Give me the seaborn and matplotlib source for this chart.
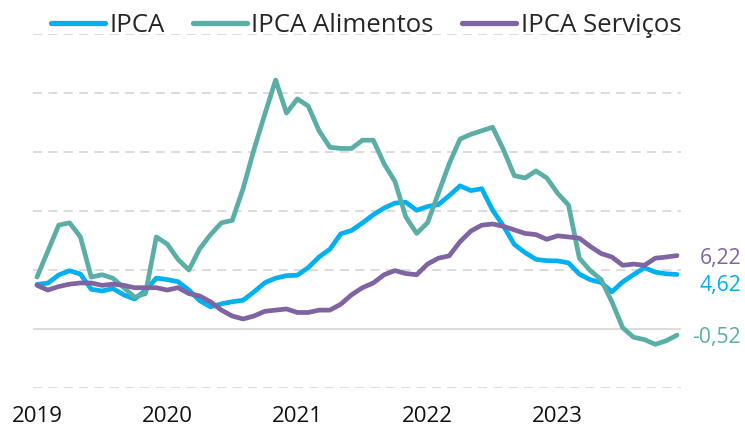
import numpy as np
import pandas as pd
import matplotlib
matplotlib.use("Agg")
import matplotlib.pyplot as plt
import matplotlib.transforms as mtransforms
import seaborn as sns

# ---- data (12-month % change, monthly Jan 2019 - Dec 2023) ----
years = ["2019", "2020", "2021", "2022", "2023"]
ipca = [3.78, 3.89, 4.58, 4.94, 4.66, 3.37, 3.22, 3.43, 2.89, 2.54, 3.27, 4.31,
        4.19, 4.01, 3.30, 2.40, 1.88, 2.13, 2.31, 2.44, 3.14, 3.92, 4.31, 4.52,
        4.56, 5.20, 6.10, 6.76, 8.06, 8.35, 8.99, 9.68, 10.25, 10.67, 10.74, 10.06,
        10.38, 10.54, 11.30, 12.13, 11.73, 11.89, 10.07, 8.73, 7.17, 6.47, 5.90, 5.79,
        5.77, 5.60, 4.65, 4.18, 3.94, 3.16, 3.99, 4.61, 5.19, 4.82, 4.68, 4.62]
alimentos = [4.4, 6.6, 8.8, 9.0, 7.8, 4.4, 4.6, 4.3, 3.5, 2.7, 3.0, 7.8,
             7.2, 5.9, 5.0, 6.8, 8.0, 9.0, 9.2, 11.9, 15.2, 18.2, 21.1, 18.3,
             19.5, 18.9, 16.8, 15.4, 15.3, 15.3, 16.0, 16.0, 14.0, 12.5, 9.5, 8.1,
             9.0, 11.5, 14.0, 16.1, 16.5, 16.8, 17.1, 15.2, 13.0, 12.8, 13.4, 12.8,
             11.5, 10.5, 6.0, 4.95, 4.2, 2.3, 0.1, -0.7, -0.9, -1.3, -1.0, -0.52]
servicos = [3.7, 3.3, 3.6, 3.8, 3.9, 3.9, 3.7, 3.8, 3.7, 3.5, 3.5, 3.5,
            3.3, 3.5, 3.0, 2.8, 2.3, 1.6, 1.1, 0.85, 1.1, 1.5, 1.6, 1.7,
            1.4, 1.4, 1.6, 1.6, 2.1, 2.9, 3.5, 3.9, 4.6, 4.95, 4.7, 4.6,
            5.5, 6.0, 6.2, 7.4, 8.3, 8.8, 8.9, 8.7, 8.4, 8.1, 8.0, 7.6,
            7.9, 7.8, 7.7, 7.0, 6.4, 6.1, 5.4, 5.5, 5.4, 6.0, 6.1, 6.22]
series_names = ["IPCA", "IPCA Alimentos", "IPCA Serviços"]
end_labels = ["4,62", "-0,52", "6,22"]

colors = {"IPCA": "#00B0F0", "IPCA Alimentos": "#5AAEA6", "IPCA Serviços": "#8064A2"}

months = np.arange(len(ipca))
df = pd.concat([
    pd.DataFrame({"mes": months, "valor": vals, "serie": name})
    for name, vals in zip(series_names, [ipca, alimentos, servicos])
])

sns.set_theme(style="white")
plt.rcParams["font.family"] = ["Open Sans", "DejaVu Sans"]

fig = plt.figure(figsize=(7.45, 4.3), dpi=100)
ax = fig.add_axes([33 / 745, 42 / 430, 648 / 745, 354 / 430])

# grid lines
for v in [-5, 5, 10, 15, 20, 25]:
    ax.axhline(v, color="#D9D9D9", lw=1.3, ls=(0, (5, 3.5)), zorder=0)
ax.axhline(0, color="#D9D9D9", lw=1.3, zorder=0)

sns.lineplot(data=df, x="mes", y="valor", hue="serie", palette=colors,
             hue_order=series_names, lw=3.4, ax=ax, legend=True,
             solid_joinstyle="round", solid_capstyle="round")

ax.set_xlim(-0.37, len(ipca) - 1 + 0.37)
ax.set_ylim(-5, 25)
ax.set_xticks([0, 12, 24, 36, 48])
ax.set_xticklabels(years, fontsize=16, color="#111111")
ax.tick_params(axis="x", length=0, pad=13)
ax.set_yticks([])
ax.set_xlabel("")
ax.set_ylabel("")
for s in ax.spines.values():
    s.set_visible(False)

# legend
leg = ax.get_legend()
handles, labels = ax.get_legend_handles_labels()
leg.remove()
for h in handles:
    h.set_linewidth(3.8)
    h.set_solid_capstyle("round")
fig.legend(handles, labels, loc="center", bbox_to_anchor=(366 / 745, 1 - 25 / 430),
           ncol=3, frameon=False, fontsize=18.5, handlelength=2.1,
           handletextpad=0.18, columnspacing=1.1, borderaxespad=0, borderpad=0)

# end labels
trans = mtransforms.blended_transform_factory(fig.transFigure, ax.transData)
label_y = [3.67, -0.75, 5.97]
for name, txt, yy in zip(series_names, end_labels, label_y):
    ax.text(741 / 745, yy, txt, transform=trans, ha="right", va="center",
            fontsize=15.2, color=colors[name])

fig.savefig("out.png", dpi=100)
